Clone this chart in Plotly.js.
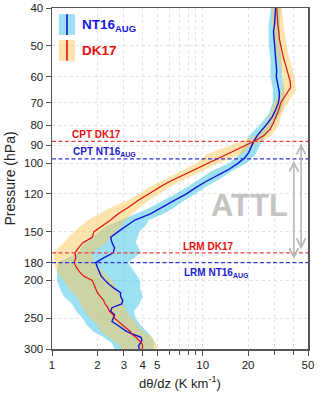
<!DOCTYPE html>
<html>
<head>
<meta charset="utf-8">
<script src="https://cdn.plot.ly/plotly-3.0.1.min.js"></script>
<style>
  html, body {margin: 0; padding: 0; background: #fff}
  #chart {width: 320px; height: 393px}
</style>
</head>
<body>
<div id="chart"></div>
<script>
// pressure levels (hPa) for the mean profiles
const pressure = [40, 42, 44, 46, 48, 50, 52, 54, 56, 58, 60, 62, 64, 66, 68, 70, 73, 76, 79, 82, 85, 88, 91, 94, 97, 100,
  104, 108, 112, 116, 120, 125, 130, 135, 140, 145, 150, 155, 160, 165, 170, 175, 180, 185, 190, 195, 200, 205, 210, 215,
  220, 225, 230, 235, 240, 245, 250, 255, 260, 265, 270, 275, 280, 285, 290, 295, 300]

// d(theta)/dz, K/km
const nt16Mean = [30.5, 30.3, 30.0, 29.5, 29.8, 30.0, 30.2, 30.5, 31.0, 31.0, 30.8, 31.3, 31.8, 32.3, 32.2, 31.8, 30.5, 29.0, 27.0, 24.8,
  23.0, 21.8, 21.0, 20.2, 19.0, 17.2, 14.8, 12.2, 10.3, 8.9, 7.8, 6.4, 5.4, 4.5, 3.55, 3.1, 2.75, 2.45, 2.5, 2.6,
  2.55, 2.2, 1.95, 2.0, 2.05, 2.12, 2.25, 2.4, 2.6, 2.85, 2.85, 2.95, 2.9, 2.5, 2.45, 2.6, 2.55, 2.5, 2.7, 2.9,
  3.1, 3.45, 3.9, 3.95, 3.85, 3.75, 3.8]
const dk17Mean = [31.0, 31.2, 31.5, 32.0, 32.3, 33.0, 33.6, 34.5, 35.5, 36.5, 37.3, 38.2, 38.3, 36.5, 34.5, 33.0, 32.0, 30.8, 29.4, 28.0,
  25.5, 21.8, 18.2, 15.3, 12.7, 10.9, 8.8, 7.2, 5.9, 5.05, 4.35, 3.7, 3.2, 2.75, 2.45, 2.15, 1.9, 1.85, 1.6, 1.5,
  1.42, 1.44, 1.4, 1.45, 1.52, 1.62, 1.85, 1.9, 1.95, 2.0, 2.1, 2.2, 2.25, 2.35, 2.4, 2.55, 2.6, 2.75, 2.9, 3.1,
  3.3, 3.4, 3.6, 3.8, 3.95, 4.0, 3.95]

// spread envelopes, coarser levels
const bandPressure = [40, 45, 50, 55, 60, 65, 70, 75, 80, 85, 90, 95, 100, 105, 110, 115, 120, 125, 130, 135, 140, 145, 150,
  160, 170, 180, 190, 200, 210, 220, 230, 240, 250, 260, 270, 280, 290, 300]
const nt16Lo = [28.3, 27.3, 27.5, 28.2, 28.2, 29.3, 29.1, 27.3, 23.7, 20.4, 18.8, 17.5, 15.0, 11.4, 9.5, 7.9, 6.6, 5.4, 4.5, 3.6, 2.9, 2.3, 2.07,
  1.63, 1.5, 1.1, 1.08, 1.08, 1.13, 1.2, 1.36, 1.45, 1.6, 1.7, 1.87, 2.2, 2.5, 2.6]
const nt16Hi = [32.9, 32.5, 32.7, 33.6, 33.6, 35.0, 34.7, 32.5, 29.2, 26.0, 24.0, 22.4, 19.7, 15.5, 12.9, 10.5, 8.9, 7.5, 6.5, 5.5, 4.4, 4.15, 3.8,
  3.6, 3.9, 3.2, 3.5, 3.85, 3.85, 4.0, 3.8, 3.5, 3.6, 3.85, 4.25, 4.6, 4.8, 4.7]
const dk17Lo = [28.7, 29.0, 30.2, 32.0, 34.2, 33.7, 29.6, 28.0, 25.9, 22.6, 15.5, 10.5, 9.2, 7.2, 5.6, 4.5, 3.75, 3.15, 2.45, 2.05, 1.75, 1.55, 1.4,
  1.2, 1.02, 1.03, 1.08, 1.2, 1.3, 1.45, 1.55, 1.65, 1.8, 2.0, 2.1, 2.4, 2.7, 2.9]
const dk17Hi = [33.5, 34.6, 36.0, 38.2, 40.7, 41.6, 36.7, 33.3, 32.0, 28.8, 22.0, 18.0, 12.8, 9.9, 7.6, 6.1, 5.1, 4.35, 3.85, 3.4, 3.1, 2.85, 2.65,
  2.3, 1.85, 1.9, 2.2, 2.5, 2.7, 2.9, 3.0, 3.1, 3.4, 3.7, 4.0, 4.6, 4.9, 5.0]

// cold point tropopause and lapse rate minimum (hPa)
const cptDK17 = 88
const cptNT16 = 97.5
const lrmDK17 = 170
const lrmNT16 = 180

const xTicks = [1, 2, 3, 4, 5, 10, 20, 50]
const xMinorTicks = [6, 7, 8, 9, 30, 40]
const yTicks = [40, 50, 60, 70, 80, 90, 100, 120, 150, 180, 200, 250, 300]

const FONT = "Liberation Sans, Arial, sans-serif"
const CYAN = "rgba(90,205,235,0.6)"
const ORANGE = "rgba(252,200,90,0.5)"
const BLUE = "#1414d8"
const RED = "#e41010"

const band = (lo, hi, color) => ({
  x: lo.concat(hi.slice().reverse()),
  y: bandPressure.concat(bandPressure.slice().reverse()),
  type: "scatter", mode: "lines", fill: "toself", fillcolor: color,
  line: {width: 0}, hoverinfo: "skip", showlegend: false
})

const level = (p, color) => ({
  x: [1, 50], y: [p, p], type: "scatter", mode: "lines",
  line: {color, width: 1.3, dash: "4px,2.5px"}, showlegend: false
})

const data = [
  band(nt16Lo, nt16Hi, CYAN),
  band(dk17Lo, dk17Hi, ORANGE),
  {x: nt16Mean, y: pressure, type: "scatter", mode: "lines", line: {color: BLUE, width: 1.4}, showlegend: false},
  {x: dk17Mean, y: pressure, type: "scatter", mode: "lines", line: {color: RED, width: 1.2}, showlegend: false},
  level(cptDK17, "#ee4040"),
  level(cptNT16, "#3434d4"),
  level(lrmDK17, "#ee4040"),
  level(lrmNT16, "#3434d4")
]

const label = (text, x, y, color, size, extra) => Object.assign({
  text, x, y, xref: "paper", yref: "paper", xanchor: "left", yanchor: "middle",
  showarrow: false, font: {family: FONT, size, color, weight: "bold"}
}, extra || {})

const arrow = (xp, top, bottom) => ({
  x: xp, y: Math.log10(top), ax: 0, ay: Math.log10(bottom),
  xref: "paper", yref: "y", axref: "pixel", ayref: "y",
  text: "", showarrow: true, arrowside: "end+start",
  arrowhead: 5, startarrowhead: 5, arrowsize: 1.1, startarrowsize: 1.1,
  arrowwidth: 1.6, arrowcolor: "#b8b8b8", standoff: 2, startstandoff: 2
})

const annotations = [
  label("NT16<sub>AUG</sub>", 0.109, 0.948, "#1818e0", 13.5),
  label("DK17", 0.109, 0.874, "#e41010", 13.5),
  label("CPT DK17", 0.070, 0.628, "#e41010", 10),
  label("CPT NT16<sub>AUG</sub>", 0.074, 0.578, "#2020d0", 10),
  label("LRM DK17", 0.504, 0.302, "#e41010", 10),
  label("LRM NT16<sub>AUG</sub>", 0.508, 0.224, "#2020d0", 10),
  label("ATTL", 0.773, 0.422, "#c4c4c4", 31, {xanchor: "center"}),
  arrow(0.973, cptDK17, lrmDK17),
  arrow(0.945, cptNT16, lrmNT16)
]

const legendBox = (y0, y1, fill, stroke) => [
  {type: "rect", xref: "paper", yref: "paper", x0: 0.027, x1: 0.090, y0, y1, fillcolor: fill, line: {width: 0}},
  {type: "line", xref: "paper", yref: "paper", x0: 0.0586, x1: 0.0586, y0, y1, line: {color: stroke, width: 1.6}}
]

const layout = {
  width: 320, height: 393,
  margin: {l: 52, r: 12, t: 8, b: 44},
  paper_bgcolor: "#fff", plot_bgcolor: "#fff",
  font: {family: FONT, size: 11, color: "#222"},
  showlegend: false,
  xaxis: {
    type: "log", range: [0, Math.log10(50)],
    tickmode: "array", tickvals: xTicks, ticktext: xTicks.map(String),
    ticks: "outside", ticklen: 5, tickcolor: "#555", tickfont: {size: 11.5},
    minor: {tickmode: "array", tickvals: xMinorTicks, ticks: "outside", ticklen: 4, tickcolor: "#555",
      showgrid: true, gridcolor: "#e2e2e2", griddash: "dot"},
    showgrid: true, gridcolor: "#e2e2e2", griddash: "dot",
    showline: true, linecolor: "#555", linewidth: 1.5, mirror: true, zeroline: false,
    title: {text: "d\u03b8/dz (K km<sup>-1</sup>)", font: {size: 13}, standoff: 8}
  },
  yaxis: {
    type: "log", range: [Math.log10(300), Math.log10(40)],
    tickmode: "array", tickvals: yTicks, ticktext: yTicks.map(String),
    ticks: "outside", ticklen: 5, tickcolor: "#555", tickfont: {size: 11.5},
    showgrid: true, gridcolor: "#e2e2e2", griddash: "dot",
    showline: true, linecolor: "#555", linewidth: 1.5, mirror: true, zeroline: false,
    title: {text: "Pressure (hPa)", font: {size: 14}, standoff: 5}
  },
  shapes: [...legendBox(0.921, 0.982, CYAN, BLUE), ...legendBox(0.845, 0.906, ORANGE, RED)],
  annotations
}

Plotly.newPlot("chart", data, layout, {displayModeBar: false, staticPlot: true})
</script>
</body>
</html>
